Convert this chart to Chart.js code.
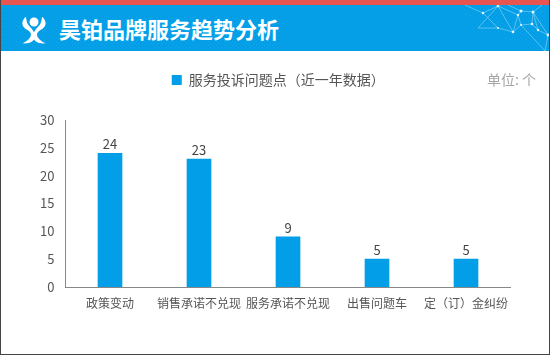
<!DOCTYPE html>
<html>
<head>
<meta charset="utf-8">
<script src="https://cdn.jsdelivr.net/npm/chart.js@4"></script>
<style>
html, body { margin: 0; padding: 0; background: #fff; }
#page { position: relative; width: 550px; height: 356px; overflow: hidden; font-family: "Noto Sans CJK SC", sans-serif; }
#frame { position: absolute; left: 0; top: 0; width: 548px; height: 354px; border: 1px solid #444; border-top: 0; }
#redbar { position: absolute; left: 0; top: 0; width: 550px; height: 5px; background: #e85450; }
#head { position: absolute; left: 0; top: 5px; width: 550px; height: 46px; background: #029fe8; }
#head svg { position: absolute; left: 0; top: 0; }
#title { position: absolute; left: 59px; top: 5px; font-size: 22px; line-height: 36px; font-weight: 700; color: #fff; white-space: nowrap; }
#unit { position: absolute; left: 487px; top: 70px; font-size: 14px; line-height: 18px; color: #a6a6a6; white-space: nowrap; }
canvas { position: absolute; left: 0; top: 0; }
</style>
</head>
<body>
<div id="page">
  <div id="head">
    <svg width="550" height="46">
      <defs>
        <pattern id="dots" width="4" height="4" patternUnits="userSpaceOnUse">
          <rect x="0" y="0" width="1" height="1" fill="#fff" opacity="0.07"/>
          <rect x="2" y="2" width="1" height="1" fill="#fff" opacity="0.07"/>
        </pattern>
        <path id="wing" d="M27.7 11.7 C23.7 16.7 24.3 21.7 29 25 C31.7 27 32.3 30 31 32.3 C29.7 35 27.7 37 25 38.3 C30 39 34.3 36.7 34.7 31.7 C35 26.7 31.7 23.3 29.7 20 C28.3 17.7 28.3 15 27.7 11.7Z"/>
      </defs>
      <rect width="550" height="46" fill="url(#dots)"/>
      <g fill="#fff">
        <circle cx="34" cy="17" r="4.5"/>
        <use href="#wing" transform="translate(34 0) scale(1.3 1) translate(-34 0)"/>
        <use href="#wing" transform="translate(34 0) scale(-1.3 1) translate(-34 0)"/>
      </g>
      <g stroke="#8fd6f6" stroke-width="0.8" fill="none" opacity="0.75">
        <path d="M465 0 L483 8 L498 1 L478 23 L498 23 L483 8 M498 1 L513 27 L498 23 M513 27 L518 10 L498 1 M518 10 L521 6 L533 7 L532 19 L521 20 L518 10 M533 7 L538 25 L548 30 L545 46 M532 19 L538 25 M513 27 L521 20 L545 46 M521 6 L508 0 M533 7 L542 0 M548 30 L533 7"/>
      </g>
      <g fill="#e4f6fe">
        <circle cx="483" cy="8" r="1.2"/><circle cx="498" cy="1" r="1.3"/><circle cx="498" cy="23" r="1"/><circle cx="513" cy="27" r="1.3"/>
        <circle cx="518" cy="10" r="1.2"/><circle cx="521" cy="6" r="1.5"/><circle cx="533" cy="7" r="1.5"/><circle cx="532" cy="19" r="1.3"/>
        <circle cx="521" cy="20" r="1"/><circle cx="538" cy="25" r="1.2"/><circle cx="548" cy="30" r="1.4"/>
      </g>
    </svg>
    <div id="title">昊铂品牌服务趋势分析</div>
  </div>
  <div id="redbar"></div>
  <canvas id="c" width="550" height="356"></canvas>
  <div id="unit">单位: 个</div>
  <div id="frame"></div>
</div>
<script>
var categories = ['政策变动', '销售承诺不兑现', '服务承诺不兑现', '出售问题车', '定（订）金纠纷'];
var seriesName = '服务投诉问题点（近一年数据）';
var seriesValues = [24, 23, 9, 5, 5];
var tickValues = [0, 5, 10, 15, 20, 25, 30];

var FONT = '"Noto Sans CJK SC", sans-serif';

var valueLabels = {
    id: 'valueLabels',
    afterDatasetsDraw: function (chart) {
        var ctx = chart.ctx;
        var bars = chart.getDatasetMeta(0).data;
        ctx.save();
        ctx.fillStyle = '#444';
        ctx.font = '13px ' + FONT;
        ctx.textAlign = 'center';
        ctx.textBaseline = 'alphabetic';
        bars.forEach(function (bar, i) {
            ctx.fillText(seriesValues[i], bar.x, bar.y - 4);
        });
        ctx.restore();
    }
};

// legend needs extra room under it and sits a little right of centre
var legendGap = {
    id: 'legendGap',
    beforeInit: function (chart) {
        var legend = chart.legend;
        var fit = legend.fit;
        var draw = legend.draw;
        legend.fit = function () {
            fit.call(this);
            this.height += 23;
        };
        legend.draw = function () {
            chart.ctx.save();
            chart.ctx.translate(5, 0);
            draw.call(this);
            chart.ctx.restore();
        };
    }
};

new Chart(document.getElementById('c').getContext('2d'), {
    type: 'bar',
    data: {
        labels: categories,
        datasets: [{ label: seriesName, data: seriesValues, backgroundColor: '#029fe8', barThickness: 24 }]
    },
    options: {
        responsive: false,
        animation: false,
        layout: { padding: { left: 36, right: 39.5, top: 68, bottom: 0 } },
        scales: {
            x: {
                afterFit: function (scale) { scale.height = 69; },
                grid: { display: false, drawTicks: false },
                border: { color: '#888' },
                ticks: { color: '#555', font: { family: FONT, size: 12 }, maxRotation: 0, autoSkip: false, padding: 9 }
            },
            y: {
                min: 0,
                max: 30,
                afterFit: function (scale) { scale.width = 29.5; },
                afterBuildTicks: function (scale) { scale.ticks = tickValues.map(function (v) { return { value: v }; }); },
                grid: { display: false, drawTicks: true, tickLength: 5, tickColor: '#888' },
                border: { color: '#888' },
                ticks: { color: '#555', font: { family: FONT, size: 13 }, padding: 6 }
            }
        },
        plugins: {
            tooltip: { enabled: false },
            legend: {
                display: true,
                position: 'top',
                labels: { color: '#555', font: { family: FONT, size: 14 }, boxWidth: 10, boxHeight: 10, padding: 5 }
            }
        }
    },
    plugins: [valueLabels, legendGap]
});
</script>
</body>
</html>
